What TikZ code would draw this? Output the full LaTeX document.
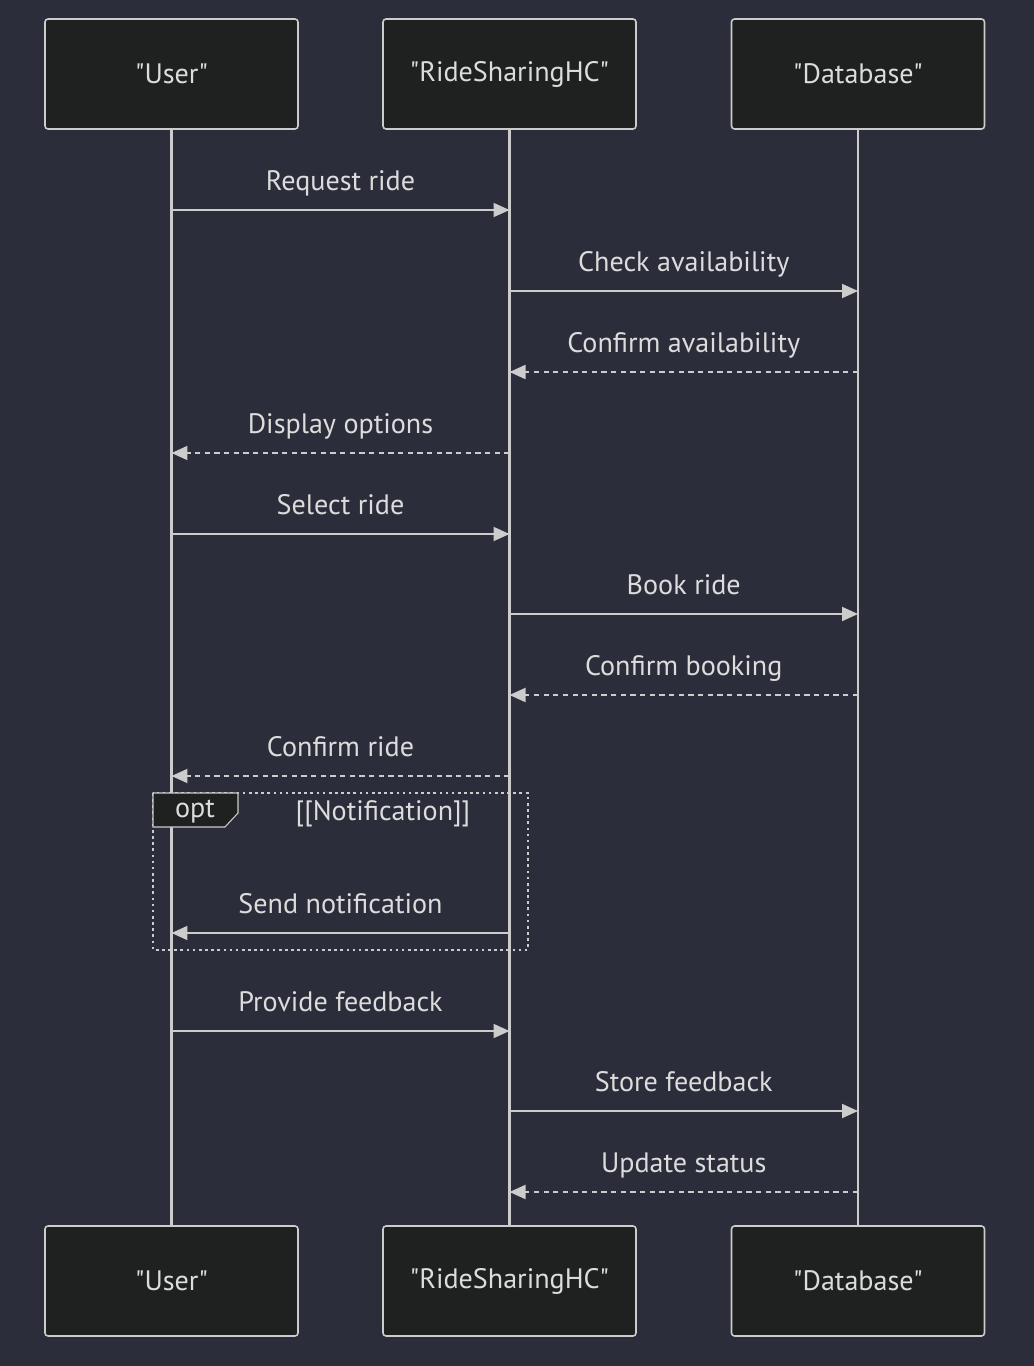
\documentclass[tikz,border=0pt]{standalone}
\usepackage{fontspec}
\setmainfont{PT Sans}[Ligatures=TeXOff]
\usetikzlibrary{arrows.meta}
\definecolor{bgc}{RGB}{43,46,58}
\definecolor{boxc}{RGB}{31,32,32}
\definecolor{linec}{RGB}{204,204,204}
\definecolor{textc}{RGB}{220,220,220}
\tikzset{
  actor/.style={draw=linec, fill=boxc, line width=0.9pt, rounded corners=0.06cm,
    minimum width=5.06cm, minimum height=2.2cm, text=textc, font=\fontsize{16}{19}\selectfont},
  life/.style={linec, line width=1.4pt},
  msg/.style={linec, line width=1.1pt, -{Triangle[length=0.32cm,width=0.28cm]}},
  reply/.style={msg, dash pattern=on 3pt off 2.5pt},
  lbl/.style={text=textc, font=\fontsize{16}{19}\selectfont, anchor=base},
  msglbl/.style={lbl, midway, yshift=0.4cm}
}
\begin{document}
\begin{tikzpicture}[x=0.02cm, y=-0.02cm]
    \fill[bgc] (0,0) rectangle (1034,1366);
    \useasboundingbox (0,0) rectangle (1034,1366);

    % lifelines first, boxes on top
    \draw[life] (171.5,129) -- (171.5,1226);
    \draw[life] (509.5,129) -- (509.5,1226);
    \draw[life] (858,129) -- (858,1226);

    \node[actor] (user) at (171.5,74) {"User"};
    \node[actor] (ride) at (509.5,74) {"RideSharingHC"};
    \node[actor] (db) at (858,74) {"Database"};
    \node[actor] (userb) at (171.5,1281) {"User"};
    \node[actor] (rideb) at (509.5,1281) {"RideSharingHC"};
    \node[actor] (dbb) at (858,1281) {"Database"};

    % messages
    \draw[msg] (user.south |- 0,210) -- (ride.south |- 0,210) node[msglbl] (m1) {Request ride};
    \draw[msg] (ride.south |- 0,291) -- (db.south |- 0,291) node[msglbl] (m2) {Check availability};
    \draw[reply] (db.south |- 0,372) -- (ride.south |- 0,372) node[msglbl] (m3) {Confirm availability};
    \draw[reply] (ride.south |- 0,453) -- (user.south |- 0,453) node[msglbl] (m4) {Display options};
    \draw[msg] (user.south |- 0,534) -- (ride.south |- 0,534) node[msglbl] (m5) {Select ride};
    \draw[msg] (ride.south |- 0,614) -- (db.south |- 0,614) node[msglbl] (m6) {Book ride};
    \draw[reply] (db.south |- 0,695) -- (ride.south |- 0,695) node[msglbl] (m7) {Confirm booking};
    \draw[reply] (ride.south |- 0,776) -- (user.south |- 0,776) node[msglbl] (m8) {Confirm ride};

    % opt block
    \draw[linec, line width=1.5pt, dash pattern=on 1.5pt off 2pt] (153,793) rectangle (528,950);
    \draw[linec, fill=boxc, line width=0.6pt] (153,793) -- (238,793) -- (238,813) -- (225,827) -- (153,827) -- cycle;
    \node[lbl, anchor=center] (optl) at (195,812) {opt};
    \node[lbl, anchor=center] (cond) at (383,814) {[[Notification]]};
    \draw[msg] (ride.south |- 0,933) -- (user.south |- 0,933) node[msglbl] (m9) {Send notification};

    \draw[msg] (user.south |- 0,1031) -- (ride.south |- 0,1031) node[msglbl] (m10) {Provide feedback};
    \draw[msg] (ride.south |- 0,1111) -- (db.south |- 0,1111) node[msglbl] (m11) {Store feedback};
    \draw[reply] (db.south |- 0,1192) -- (ride.south |- 0,1192) node[msglbl] (m12) {Update status};
\end{tikzpicture}
\end{document}
